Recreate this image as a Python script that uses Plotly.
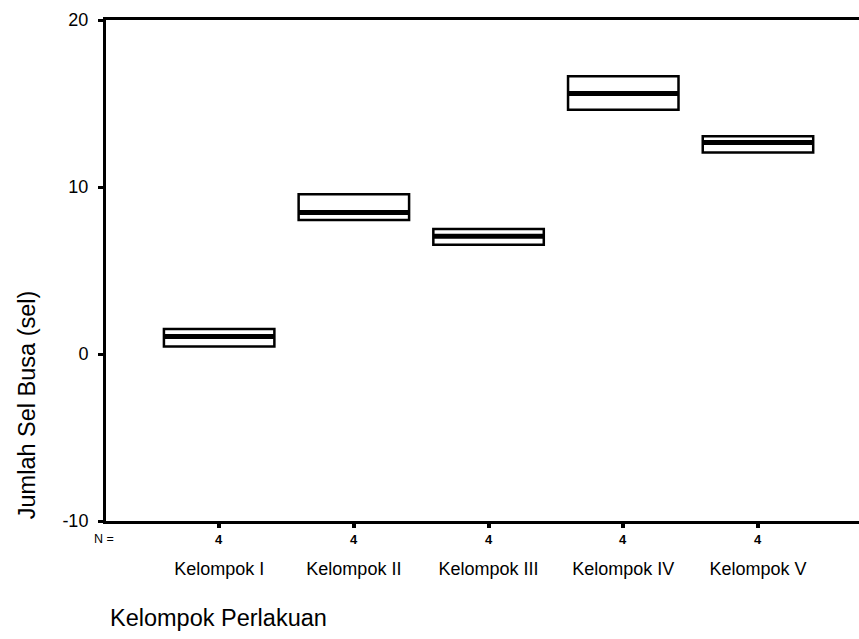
import plotly.graph_objects as go

# ---- data ----
groups = ["Kelompok I", "Kelompok II", "Kelompok III", "Kelompok IV", "Kelompok V"]
n_counts = [4, 4, 4, 4, 4]
q1_vals = [0.45, 8.03, 6.54, 14.62, 12.07]
median_vals = [1.05, 8.47, 7.05, 15.6, 12.66]
q3_vals = [1.5, 9.57, 7.49, 16.63, 13.04]
y_ticks = [-10, 0, 10, 20]
y_tick_labels = ["-10", "0", "10", "20"]

FONT = "Liberation Sans, Arial, sans-serif"
positions = list(range(len(groups)))
box_w = 0.82

fig = go.Figure()
fig.add_trace(go.Box(
    x=positions, q1=q1_vals, median=median_vals, q3=q3_vals,
    lowerfence=q1_vals, upperfence=q3_vals,
    width=box_w, whiskerwidth=0,
    fillcolor="white", line=dict(color="black", width=2.5),
    boxpoints=False, hoverinfo="skip", showlegend=False,
))

# thick median lines
mx, my = [], []
for p, m in zip(positions, median_vals):
    mx += [p - box_w / 2, p + box_w / 2, None]
    my += [m, m, None]
fig.add_trace(go.Scatter(x=mx, y=my, mode="lines",
                         line=dict(color="black", width=5),
                         hoverinfo="skip", showlegend=False))

# N row
fig.add_annotation(x=-0.003, y=-0.036, xref="paper", yref="paper",
                   text="N =", showarrow=False, xanchor="center", yanchor="middle",
                   font=dict(family=FONT, size=12.5, color="black"))
for p, n in zip(positions, n_counts):
    fig.add_annotation(x=p, y=-0.036, xref="x", yref="paper",
                       text="<b>%d</b>" % n, showarrow=False,
                       xanchor="center", yanchor="middle",
                       font=dict(family=FONT, size=13, color="black"))

# axis titles
fig.add_annotation(x=0.003, y=-0.193, xref="paper", yref="paper",
                   text="Kelompok Perlakuan", showarrow=False,
                   xanchor="left", yanchor="middle",
                   font=dict(family=FONT, size=23.5, color="black"))
fig.add_annotation(x=-0.105, y=0.233, xref="paper", yref="paper",
                   text="Jumlah Sel Busa (sel)", showarrow=False, textangle=-90,
                   xanchor="center", yanchor="middle",
                   font=dict(family=FONT, size=23.5, color="black"))

fig.update_layout(
    width=859, height=639,
    margin=dict(l=106, r=0, t=19.5, b=118),
    paper_bgcolor="white", plot_bgcolor="white",
    font=dict(family=FONT, size=18, color="black"),
    xaxis=dict(range=[-0.84, 4.75], tickvals=positions, ticktext=groups,
               showgrid=False, zeroline=False,
               showline=True, linecolor="black", linewidth=3, mirror=True,
               ticks="outside", ticklen=4, tickwidth=4, tickcolor="black",
               ticklabelstandoff=25,
               tickfont=dict(family=FONT, size=18, color="black")),
    yaxis=dict(range=[-10, 20], tickvals=y_ticks, ticktext=y_tick_labels,
               showgrid=False, zeroline=False,
               showline=True, linecolor="black", linewidth=3, mirror=False,
               ticks="outside", ticklen=5, tickwidth=3, tickcolor="black",
               ticklabelstandoff=6,
               tickfont=dict(family=FONT, size=18, color="black")),
)

fig.write_html("out.html", config={"displayModeBar": False},
               post_script="document.body.style.margin='0';")
